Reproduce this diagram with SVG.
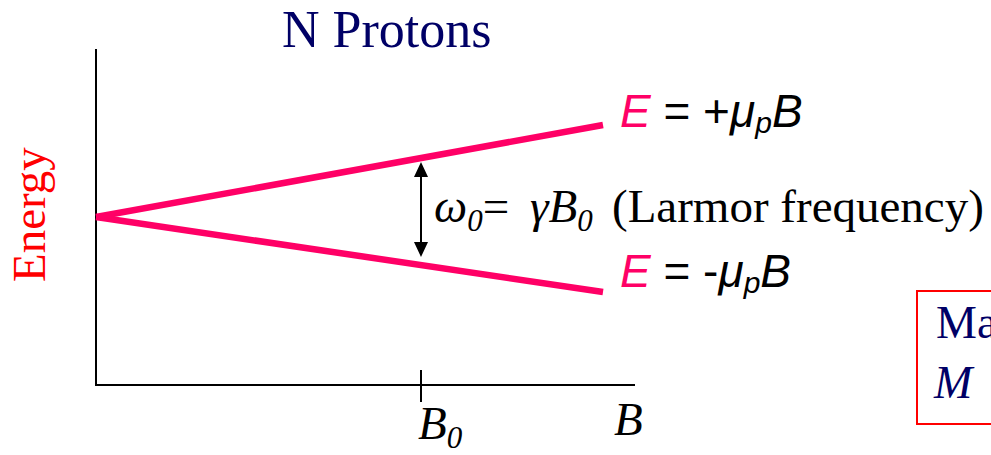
<svg xmlns="http://www.w3.org/2000/svg" width="991" height="455" viewBox="0 0 991 455">
<style>
.serif{font-family:"Liberation Serif","Times New Roman",serif}
.sans{font-family:"Liberation Sans",Arial,sans-serif}
.navy{fill:#000066}
.axis{stroke:#000;stroke-width:2;fill:none}
.level{stroke:#FF0066;stroke-width:6.5;fill:none;stroke-linecap:butt}
.pink{fill:#FF0066}
.it{font-style:italic}
</style>
<rect width="991" height="455" fill="#fff"/>
<g id="title"><text class="serif navy" x="282" y="47" font-size="52">N Protons</text></g>
<g id="axes">
<line class="axis" x1="96" y1="49" x2="96" y2="386"/>
<line class="axis" x1="95" y1="385" x2="635" y2="385"/>
<line class="axis" x1="421" y1="370" x2="421" y2="402"/>
</g>
<g id="energy-label"><text class="serif" fill="#FF0000" font-size="47" transform="translate(45,282) rotate(-90)">Energy</text></g>
<g id="levels">
<line class="level" x1="96" y1="217" x2="603" y2="125"/>
<line class="level" x1="96" y1="217" x2="603" y2="292"/>
</g>
<g id="connectors">
<line x1="421" y1="176" x2="421" y2="243" stroke="#000" stroke-width="2"/>
<path d="M421,162 L414,177 L428,177 Z" fill="#000"/>
<path d="M421,257 L414,242 L428,242 Z" fill="#000"/>
</g>
<g id="upper-label"><text class="sans" x="620" y="127" font-size="46"><tspan class="pink it">E</tspan> = +<tspan class="it">μ</tspan><tspan class="it" font-size="30" dy="6">p</tspan><tspan class="it" dy="-6">B</tspan></text></g>
<g id="lower-label"><text class="sans" x="620" y="287" font-size="46"><tspan class="pink it">E</tspan> = -<tspan class="it">μ</tspan><tspan class="it" font-size="30" dy="6">p</tspan><tspan class="it" dy="-6">B</tspan></text></g>
<g id="larmor-label"><text class="serif" y="222" font-size="47"><tspan class="it" x="434">ω</tspan><tspan class="it" font-size="31" dy="9">0</tspan><tspan dy="-9">=</tspan><tspan class="it" x="530">γB</tspan><tspan class="it" font-size="31" dy="9">0</tspan><tspan x="612" dy="-9">(Larmor frequency)</tspan></text></g>
<g id="b0-label"><text class="serif it" x="418" y="439" font-size="47">B<tspan font-size="31" dy="9">0</tspan></text></g>
<g id="b-label"><text class="serif it" x="614" y="435" font-size="47">B</text></g>
<g id="magnetization-box">
<rect x="917" y="291" width="80" height="133" fill="none" stroke="#FF0000" stroke-width="2"/>
<text class="serif navy" x="936" y="338" font-size="46">Ma</text>
<text class="serif navy it" x="934" y="398" font-size="46">M</text>
</g>
</svg>
